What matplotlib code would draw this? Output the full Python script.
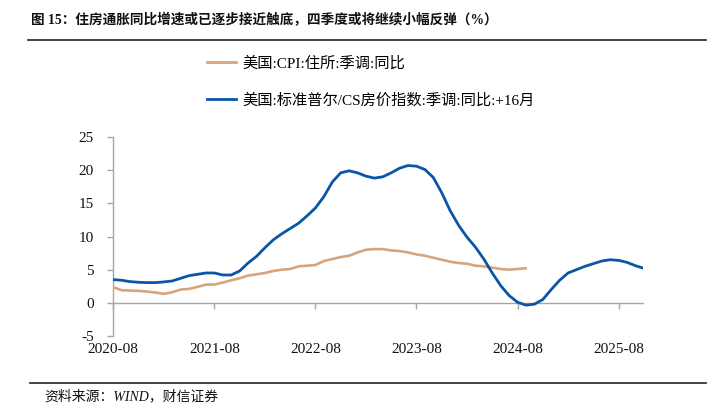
import matplotlib
matplotlib.use("Agg")
import matplotlib.pyplot as plt
from matplotlib.lines import Line2D

# ---- data (monthly, starting 2020-08) ----
tick_labels = ["2020-08", "2021-08", "2022-08", "2023-08", "2024-08", "2025-08"]
tick_months = [0, 12, 24, 36, 48, 60]

cpi_shelter = [2.35, 1.9, 1.85, 1.8, 1.7, 1.55, 1.35, 1.6, 2.0, 2.1,
               2.4, 2.75, 2.75, 3.05, 3.4, 3.7, 4.1, 4.3, 4.5, 4.8,
               5.0, 5.1, 5.5, 5.6, 5.7, 6.3, 6.6, 6.9, 7.1, 7.6,
               8.0, 8.1, 8.1, 7.9, 7.8, 7.6, 7.3, 7.1, 6.8, 6.5,
               6.2, 6.0, 5.9, 5.6, 5.5, 5.3, 5.1, 5.0, 5.1, 5.2]

cs_index_lead16 = [3.5, 3.4, 3.2, 3.1, 3.05, 3.05, 3.15, 3.3, 3.7, 4.1,
                   4.3, 4.5, 4.5, 4.2, 4.2, 4.8, 6.0, 7.0, 8.3, 9.5,
                   10.4, 11.2, 12.0, 13.1, 14.3, 16.0, 18.2, 19.6, 19.9, 19.6,
                   19.1, 18.8, 19.0, 19.6, 20.3, 20.7, 20.6, 20.1, 18.9, 16.6,
                   13.9, 11.7, 9.9, 8.4, 6.6, 4.5, 2.6, 1.1, 0.1, -0.35,
                   -0.2, 0.5, 2.0, 3.4, 4.5, 5.0, 5.5, 5.9, 6.3, 6.5,
                   6.4, 6.1, 5.6, 5.2]

label_cpi = "美国:CPI:住所:季调:同比"
label_cs = "美国:标准普尔/CS房价指数:季调:同比:+16月"
title = "图 15：住房通胀同比增速或已逐步接近触底，四季度或将继续小幅反弹（%）"
source = "资料来源：WIND，财信证券"

FONT = ["Liberation Serif", "Noto Sans CJK SC"]
plt.rcParams["font.family"] = FONT

c_blue = "#0a55a8"
c_orange = "#d8a47c"
c_axis = "#a6a6a6"

W, H = 720, 417
fig = plt.figure(figsize=(7.2, 4.17), dpi=100)
ax = fig.add_axes([113.3 / W, 1 - 336 / H, (643 - 113.3) / W, (336 - 137) / H])

x_cpi = list(range(len(cpi_shelter)))
x_cs = list(range(len(cs_index_lead16)))
ax.plot(x_cpi, cpi_shelter, color=c_orange, lw=1.9, solid_capstyle="round", zorder=3)
ax.plot(x_cs, cs_index_lead16, color=c_blue, lw=2.0, solid_capstyle="round", zorder=4)

ax.set_ylim(-5, 25)
ax.set_xlim(0, 62.9)
ax.set_yticks([-5, 0, 5, 10, 15, 20, 25])
ax.set_yticklabels(["-5", "0", "5", "10", "15", "20", "25"])

for s in ["top", "right"]:
    ax.spines[s].set_visible(False)
ax.spines["left"].set_color(c_axis)
ax.spines["bottom"].set_color(c_axis)
ax.spines["bottom"].set_position(("data", 0))
ax.spines["left"].set_linewidth(1.0)
ax.spines["bottom"].set_linewidth(1.0)

ax.tick_params(axis="y", direction="out", length=4, width=1, color=c_axis,
               labelsize=11, pad=10, labelcolor="#111111")
ax.set_xticks(tick_months)
ax.tick_params(axis="x", direction="out", length=4, width=1, color=c_axis,
               labelbottom=False)

sec = ax.secondary_xaxis(0.0)
sec.set_xticks(tick_months)
sec.set_xticklabels(tick_labels)
sec.tick_params(axis="x", length=0, labelsize=11, pad=5, labelcolor="#111111")
sec.spines["bottom"].set_visible(False)

handles = [Line2D([], [], color=c_orange, lw=2.0),
           Line2D([], [], color=c_blue, lw=2.0)]
fig.legend(handles, [label_cpi, label_cs], loc="upper left",
           bbox_to_anchor=(207 / W, 1 - 56 / H), frameon=False,
           prop={"family": FONT, "size": 11}, handlelength=1.9,
           handletextpad=0.4, labelspacing=1.5, borderpad=0, borderaxespad=0)

fig.text(31 / W, 1 - 20 / H, title, fontsize=9.8, fontweight="bold",
         family=FONT, va="center", ha="left", color="#111111")
fig.add_artist(Line2D([28 / W, 706 / W], [1 - 40 / H, 1 - 40 / H],
                      transform=fig.transFigure, color="#222222", lw=1.2))
fig.add_artist(Line2D([30 / W, 706 / W], [1 - 383 / H, 1 - 383 / H],
                      transform=fig.transFigure, color="#222222", lw=1.2))
fig.text(44 / W, 1 - 396 / H, source, fontsize=10, style="italic",
         family=FONT, va="center", ha="left", color="#111111")

fig.savefig("out.png", dpi=100)
